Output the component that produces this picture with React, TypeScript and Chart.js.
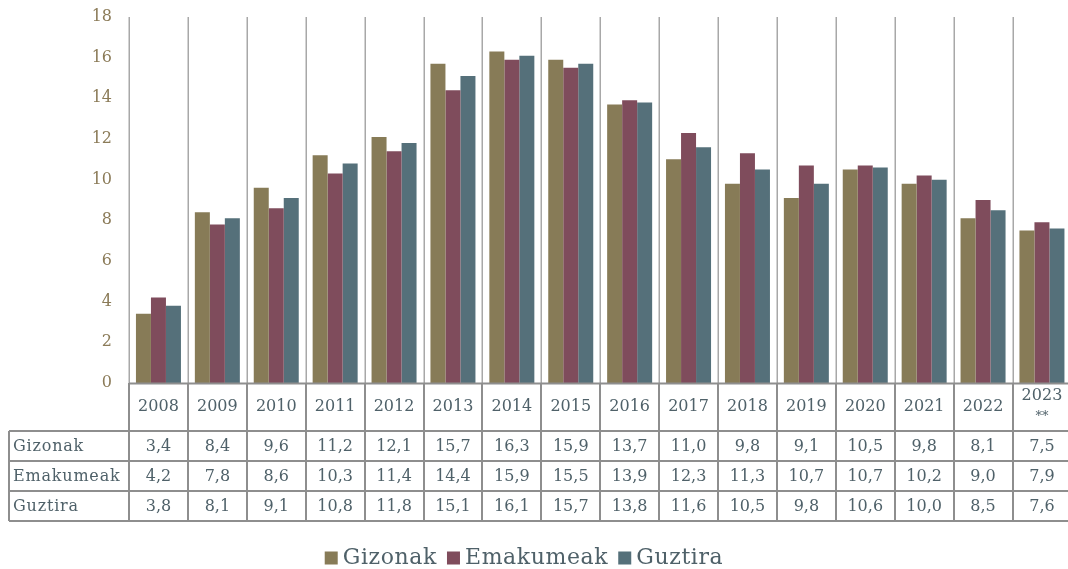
import React, { useEffect, useRef } from "react";
import { Chart, registerables } from "chart.js";

Chart.register(...registerables);

const years: (string | string[])[] = [
  "2008", "2009", "2010", "2011", "2012", "2013", "2014", "2015",
  "2016", "2017", "2018", "2019", "2020", "2021", "2022", ["2023", "**"],
];
const gizonak = [3.4, 8.4, 9.6, 11.2, 12.1, 15.7, 16.3, 15.9, 13.7, 11.0, 9.8, 9.1, 10.5, 9.8, 8.1, 7.5];
const emakumeak = [4.2, 7.8, 8.6, 10.3, 11.4, 14.4, 15.9, 15.5, 13.9, 12.3, 11.3, 10.7, 10.7, 10.2, 9.0, 7.9];
const guztira = [3.8, 8.1, 9.1, 10.8, 11.8, 15.1, 16.1, 15.7, 13.8, 11.6, 10.5, 9.8, 10.6, 10.0, 8.5, 7.6];
const seriesNames = ["Gizonak", "Emakumeak", "Guztira"];
const seriesColors = ["#877b57", "#7f4c5c", "#55707a"];

const FONT = "'DejaVu Serif', serif";
const TEXT = "#4f6169";
const TICK = "#8b7b58";
const W = 1080;
const H = 569;

const fmt = (v: number) => v.toFixed(1).replace(".", ",");

const tablePlugin = {
  id: "tablePlugin",
  beforeDatasetsDraw(chart: any) {
    const ctx = chart.ctx;
    const area = chart.chartArea;
    const n = years.length;
    const cw = (area.right - area.left) / n;
    ctx.save();
    ctx.strokeStyle = "#a8a8a8";
    ctx.lineWidth = 1.5;
    for (let k = 0; k <= n; k++) {
      const x = Math.round(area.left + k * cw) + 0.25;
      ctx.beginPath();
      ctx.moveTo(x, area.top);
      ctx.lineTo(x, area.bottom);
      ctx.stroke();
    }
    ctx.restore();
  },
  afterDraw(chart: any) {
    const ctx = chart.ctx;
    const area = chart.chartArea;
    const n = years.length;
    const cw = (area.right - area.left) / n;
    const top = area.bottom;
    const headerBottom = 431;
    const rowH = 30;
    const tableLeft = 9;
    const rows = [gizonak, emakumeak, guztira];
    const tableBottom = headerBottom + rowH * rows.length;

    ctx.save();
    ctx.strokeStyle = "#8e8e8e";
    ctx.lineWidth = 2;
    ctx.beginPath();
    ctx.moveTo(area.left, top + 0.5);
    ctx.lineTo(area.right, top + 0.5);
    ctx.stroke();
    for (let r = 0; r <= rows.length; r++) {
      const y = headerBottom + r * rowH;
      ctx.beginPath();
      ctx.moveTo(tableLeft, y);
      ctx.lineTo(area.right, y);
      ctx.stroke();
    }
    for (let k = 0; k <= n; k++) {
      const x = Math.round(area.left + k * cw);
      ctx.beginPath();
      ctx.moveTo(x, top);
      ctx.lineTo(x, tableBottom);
      ctx.stroke();
    }
    ctx.beginPath();
    ctx.moveTo(tableLeft, headerBottom);
    ctx.lineTo(tableLeft, tableBottom);
    ctx.stroke();

    ctx.fillStyle = TEXT;
    ctx.font = `16px ${FONT}`;
    ctx.textBaseline = "middle";
    ctx.textAlign = "center";
    years.forEach((y, i) => {
      const cx = area.left + (i + 0.5) * cw;
      if (Array.isArray(y)) {
        ctx.fillText(y[0], cx, 396);
        ctx.font = `13px ${FONT}`;
        ctx.fillText(y[1], cx, 417);
        ctx.font = `16px ${FONT}`;
      } else {
        ctx.fillText(y, cx, 407);
      }
    });
    rows.forEach((vals, r) => {
      const cy = headerBottom + r * rowH + rowH / 2 + 1;
      ctx.textAlign = "left";
      (ctx as any).letterSpacing = "0.8px";
      ctx.fillText(seriesNames[r], 13, cy);
      (ctx as any).letterSpacing = "0px";
      ctx.textAlign = "center";
      vals.forEach((v, i) => {
        ctx.fillText(fmt(v), area.left + (i + 0.5) * cw, cy);
      });
    });

    // legend
    ctx.font = `22px ${FONT}`;
    (ctx as any).letterSpacing = "0.6px";
    const box = 13;
    const gapBoxText = 5;
    const gapItems = 10;
    const widths = seriesNames.map((s) => ctx.measureText(s).width);
    const total = widths.reduce((a, w) => a + box + gapBoxText + w, 0) + gapItems * (seriesNames.length - 1);
    let x = 524 - total / 2;
    const ly = 558;
    ctx.textAlign = "left";
    seriesNames.forEach((s, i) => {
      ctx.fillStyle = seriesColors[i];
      ctx.fillRect(x, ly - box / 2, box, box);
      x += box + gapBoxText;
      ctx.fillStyle = TEXT;
      ctx.fillText(s, x, ly);
      x += widths[i] + gapItems;
    });
    (ctx as any).letterSpacing = "0px";
    ctx.restore();
  },
};

export default function App() {
  const ref = useRef<HTMLCanvasElement | null>(null);
  useEffect(() => {
    if (!ref.current) return;
    const chart = new Chart(ref.current, {
      type: "bar",
      data: {
        labels: years as any,
        datasets: [gizonak, emakumeak, guztira].map((d, i) => ({
          label: seriesNames[i],
          data: d,
          backgroundColor: seriesColors[i],
          borderWidth: 0,
          categoryPercentage: 0.764,
          barPercentage: 1,
        })),
      },
      options: {
        responsive: false,
        animation: false,
        layout: { padding: { left: 0, right: W - 1071.4, top: 17, bottom: H - 383 } },
        plugins: { legend: { display: false }, tooltip: { enabled: false } },
        scales: {
          x: { display: false },
          y: {
            min: 0,
            max: 18,
            ticks: { stepSize: 2, color: TICK, font: { family: FONT, size: 16 }, padding: 17 },
            grid: { display: false, drawTicks: false },
            border: { display: false },
            afterFit: (scale: any) => {
              scale.width = 129;
              scale.paddingTop = 0;
              scale.paddingBottom = 0;
            },
          },
        },
      },
      plugins: [tablePlugin],
    });
    return () => chart.destroy();
  }, []);
  return (
    <div style={{ position: "fixed", left: 0, top: 0, width: 1068, height: 569, overflow: "hidden", background: "#fff" }}>
      <canvas ref={ref} width={W} height={H} style={{ width: W, height: H, display: "block" }} />
    </div>
  );
}
